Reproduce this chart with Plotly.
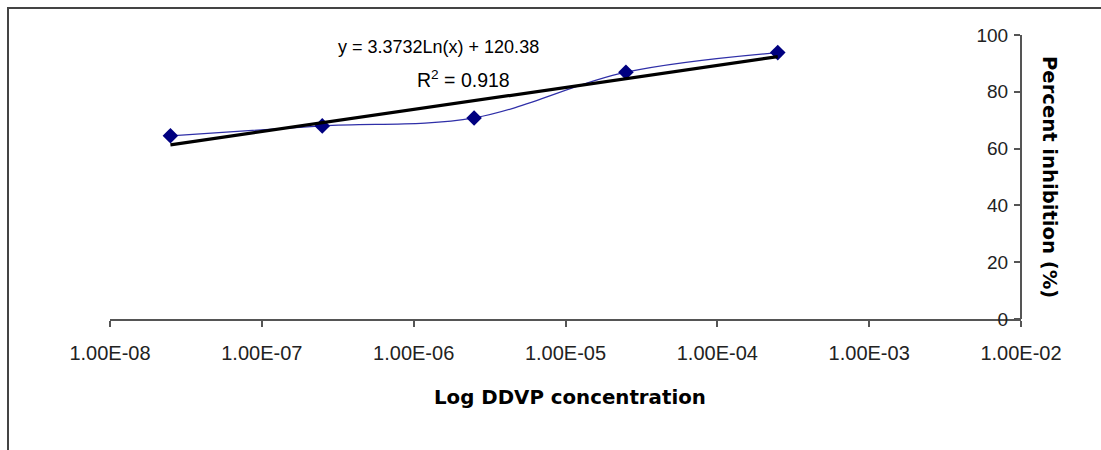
import plotly.graph_objects as go
import numpy as np

# Data
concentration = [2.5e-8, 2.5e-7, 2.5e-6, 2.5e-5, 2.5e-4]
percent_inhibition = [64.5, 68.0, 70.8, 86.9, 93.8]
trend_slope = 3.3732
trend_intercept = 120.38
x_tick_vals = [1e-8, 1e-7, 1e-6, 1e-5, 1e-4, 1e-3, 1e-2]
x_tick_text = ["1.00E-08", "1.00E-07", "1.00E-06", "1.00E-05", "1.00E-04", "1.00E-03", "1.00E-02"]
y_tick_vals = [0, 20, 40, 60, 80, 100]

FONT = "Liberation Sans, Arial, sans-serif"
BOLD_FONT = "DejaVu Sans, Liberation Sans, sans-serif"

trend_x = [concentration[0], concentration[-1]]
trend_y = [trend_slope * np.log(v) + trend_intercept for v in trend_x]

fig = go.Figure()
fig.add_trace(go.Scatter(
    x=concentration, y=percent_inhibition, mode="lines+markers",
    line=dict(color="#2f2fa8", width=1.2, shape="spline", smoothing=1.0),
    marker=dict(symbol="diamond", size=12, color="#000080"),
    showlegend=False, cliponaxis=False,
))
fig.add_trace(go.Scatter(
    x=trend_x, y=trend_y, mode="lines",
    line=dict(color="black", width=3.2),
    showlegend=False,
))

W, H = 1101, 450
L, R, T, B = 110, 1101 - 1021, 35, 450 - 319
pw, ph = W - L - R, H - T - B

def px_x(p):
    return (p - L) / pw

def px_y(p):
    return 1 - (p - T) / ph

fig.update_layout(
    width=W, height=H,
    margin=dict(l=L, r=R, t=T, b=B, pad=0),
    paper_bgcolor="white", plot_bgcolor="white",
    font=dict(family=FONT, size=18, color="black"),
    xaxis=dict(
        type="log", range=[-8.00001, -1.99999],
        tickvals=x_tick_vals, ticktext=x_tick_text,
        ticks="outside", ticklen=6, tickcolor="#555", tickwidth=2,
        ticklabelstandoff=9,
        showline=True, linecolor="#555", linewidth=2,
        showgrid=False, zeroline=False,
        tickfont=dict(size=20, family=FONT, color="#222"),
    ),
    yaxis=dict(
        range=[0, 100], side="left", anchor="free", position=1,
        tickvals=y_tick_vals,
        ticks="outside", ticklen=6, tickcolor="#555", tickwidth=2,
        ticklabelstandoff=2,
        showline=True, linecolor="#555", linewidth=2,
        showgrid=False, zeroline=False,
        tickfont=dict(size=19, family=FONT, color="#222"),
    ),
    annotations=[
        dict(text="<b>Log DDVP concentration</b>", xref="paper", yref="paper",
             x=px_x(570), y=px_y(397), showarrow=False, font=dict(size=19.8, family=BOLD_FONT),
             xanchor="center", yanchor="middle"),
        dict(text="<b>Percent inhibition (%)</b>", textangle=90, xref="paper", yref="paper",
             x=px_x(1050), y=px_y(177), showarrow=False, font=dict(size=19.6, family=BOLD_FONT),
             xanchor="center", yanchor="middle"),
        dict(text="y = 3.3732Ln(x) + 120.38", xref="paper", yref="paper",
             x=px_x(438), y=px_y(47), showarrow=False, font=dict(size=18, family=FONT),
             xanchor="center", yanchor="middle"),
        dict(text="R<sup>2</sup> = 0.918", xref="paper", yref="paper",
             x=px_x(463), y=px_y(79), showarrow=False, font=dict(size=19.5, family=FONT),
             xanchor="center", yanchor="middle"),
    ],
    shapes=[
        dict(type="rect", xref="paper", yref="paper",
             x0=px_x(8), x1=px_x(1200), y0=px_y(600), y1=px_y(8),
             line=dict(color="#444", width=2), fillcolor="rgba(0,0,0,0)", layer="below"),
    ],
)

fig.write_html("out.html")
